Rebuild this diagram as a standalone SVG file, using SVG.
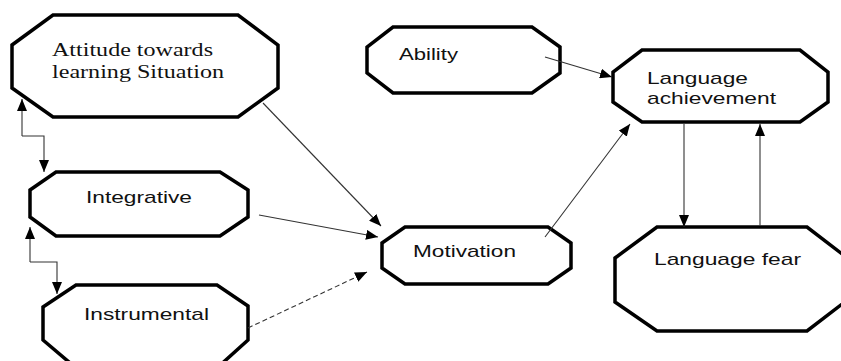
<svg xmlns="http://www.w3.org/2000/svg" width="841" height="361" viewBox="0 0 841 361">
<defs>
<marker id="ah" viewBox="0 0 12 10" refX="12" refY="5" markerWidth="12" markerHeight="10" markerUnits="userSpaceOnUse" orient="auto">
<path d="M0,0 L12,5 L0,10 z" fill="#000"/>
</marker>
</defs>
<style>
.node{fill:#fff;stroke:#000;stroke-width:3.5;stroke-linejoin:miter}
.t{font-family:"Liberation Sans",Arial,sans-serif;font-size:17px;fill:#111}
.s{font-family:"Liberation Serif","Times New Roman",serif;font-size:18px;fill:#111}
.c{fill:none;stroke:#333;stroke-width:1.1}
.d{stroke-dasharray:5,3}
</style>
<rect width="841" height="361" fill="#fff"/>
<g id="attitude">
<polygon class="node" points="53,15 238,15 278,45 278,88 238,117 53,117 12,88 12,45"/>
<text class="s" x="52" y="56" textLength="161" lengthAdjust="spacingAndGlyphs">Attitude towards</text>
<text class="s" x="52" y="78" textLength="172" lengthAdjust="spacingAndGlyphs">learning Situation</text>
</g>
<g id="integrative">
<polygon class="node" points="56,172 220,172 248,190 248,217 220,236 56,236 30,217 30,190"/>
<text class="t" x="86" y="203" textLength="106" lengthAdjust="spacingAndGlyphs">Integrative</text>
</g>
<g id="instrumental">
<polygon class="node" points="76,285 217,285 248,306 248,340 217,368 76,368 43,340 43,307"/>
<text class="t" x="84" y="320" textLength="125" lengthAdjust="spacingAndGlyphs">Instrumental</text>
</g>
<g id="ability">
<polygon class="node" points="393,27 532,27 560,47 560,73 532,93 393,93 367,73 367,47"/>
<text class="t" x="399" y="60" textLength="59" lengthAdjust="spacingAndGlyphs">Ability</text>
</g>
<g id="motivation">
<polygon class="node" points="405,227 548,227 571,243 571,268 548,284 405,284 382,268 382,243"/>
<text class="t" x="413" y="257" textLength="103" lengthAdjust="spacingAndGlyphs">Motivation</text>
</g>
<g id="achievement">
<polygon class="node" points="642,50 800,50 828,72 828,102 800,122 642,122 613,102 613,72"/>
<text class="t" x="647" y="84" textLength="101" lengthAdjust="spacingAndGlyphs">Language</text>
<text class="t" x="647" y="104" textLength="129" lengthAdjust="spacingAndGlyphs">achievement</text>
</g>
<g id="fear">
<polygon class="node" points="657,227 807,227 846,257 846,301 807,331 657,331 615,302 615,258"/>
<text class="t" x="654" y="265" textLength="147" lengthAdjust="spacingAndGlyphs">Language fear</text>
</g>
<g id="connectors">
<path class="c" d="M263,103 L381,226" marker-end="url(#ah)"/>
<path class="c" d="M259,215 L378,237" marker-end="url(#ah)"/>
<path class="c d" d="M248,328 L367,272" marker-end="url(#ah)"/>
<path class="c" d="M545,237 L630,124" marker-end="url(#ah)"/>
<path class="c" d="M545,57 L612,77" marker-end="url(#ah)"/>
<path class="c" d="M684,124 L684,227" marker-end="url(#ah)"/>
<path class="c" d="M760,226 L760,124" marker-end="url(#ah)"/>
<path class="c" d="M22,136 L22,99" marker-end="url(#ah)"/>
<path class="c" d="M22,136 L44,136 L44,172" marker-end="url(#ah)"/>
<path class="c" d="M30,262 L30,227" marker-end="url(#ah)"/>
<path class="c" d="M30,262 L57,262 L57,294" marker-end="url(#ah)"/>
</g>
</svg>
